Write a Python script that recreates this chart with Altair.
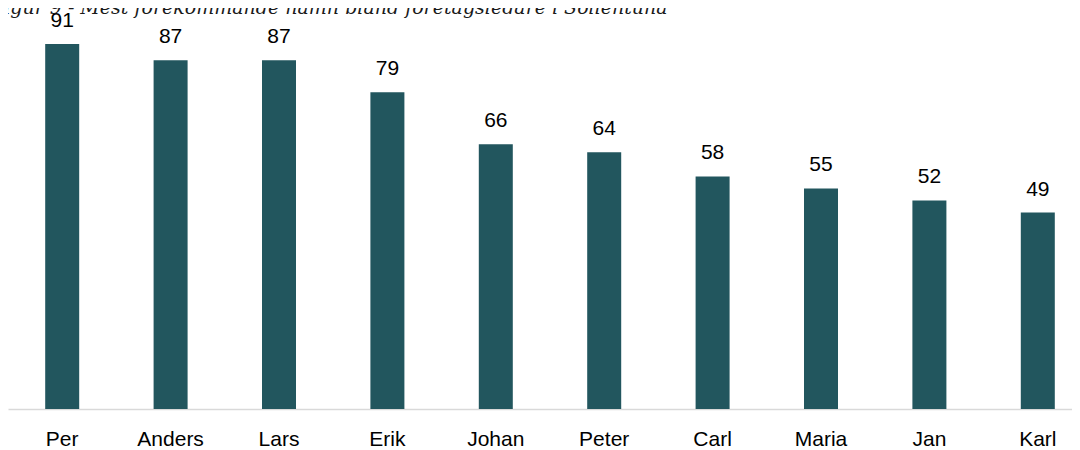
import altair as alt
import pandas as pd

names = ["Per", "Anders", "Lars", "Erik", "Johan", "Peter", "Carl", "Maria", "Jan", "Karl"]
counts = [91, 87, 87, 79, 66, 64, 58, 55, 52, 49]
title_text = ["Figur 9 - Mest förekommande namn bland företagsledare i Sollentuna"]

df = pd.DataFrame({"name": names, "count": counts})
tdf = pd.DataFrame({"t": title_text})

x_enc = alt.X("name:N", sort=None,
              scale=alt.Scale(range=[0, 1084], paddingInner=0, paddingOuter=0),
              axis=alt.Axis(title=None, labelAngle=0, ticks=False, domainColor="#d9d9d9",
                            domainWidth=1.5, labelFont="Liberation Sans", labelFontSize=21,
                            labelColor="#000000", labelPadding=19, grid=False))
y_enc = alt.Y("count:Q", scale=alt.Scale(domain=[0, 100], nice=False, zero=True), axis=None)

bars = alt.Chart(df).mark_bar(width=34, color="#22565e").encode(x=x_enc, y=y_enc)
labels = alt.Chart(df).mark_text(dy=-17, baseline="alphabetic", align="center",
                                 font="Liberation Sans", fontSize=21, color="#000000").encode(
    x=x_enc, y=y_enc, text="count:Q")
title = alt.Chart(tdf).mark_text(align="left", baseline="alphabetic", font="DejaVu Serif",
                                 fontStyle="italic", fontSize=19, color="#1a1a1a").encode(
    x=alt.value(-17), y=alt.value(6), text="t:N")

chart = alt.layer(bars, labels, title).properties(
    width=1064, height=401,
    autosize=alt.AutoSizeParams(type="none"),
    padding={"left": 0, "top": 0, "right": 0, "bottom": 41},
).configure_view(stroke=None)

chart.save("out.html", embed_options={"renderer": "svg", "actions": False})
